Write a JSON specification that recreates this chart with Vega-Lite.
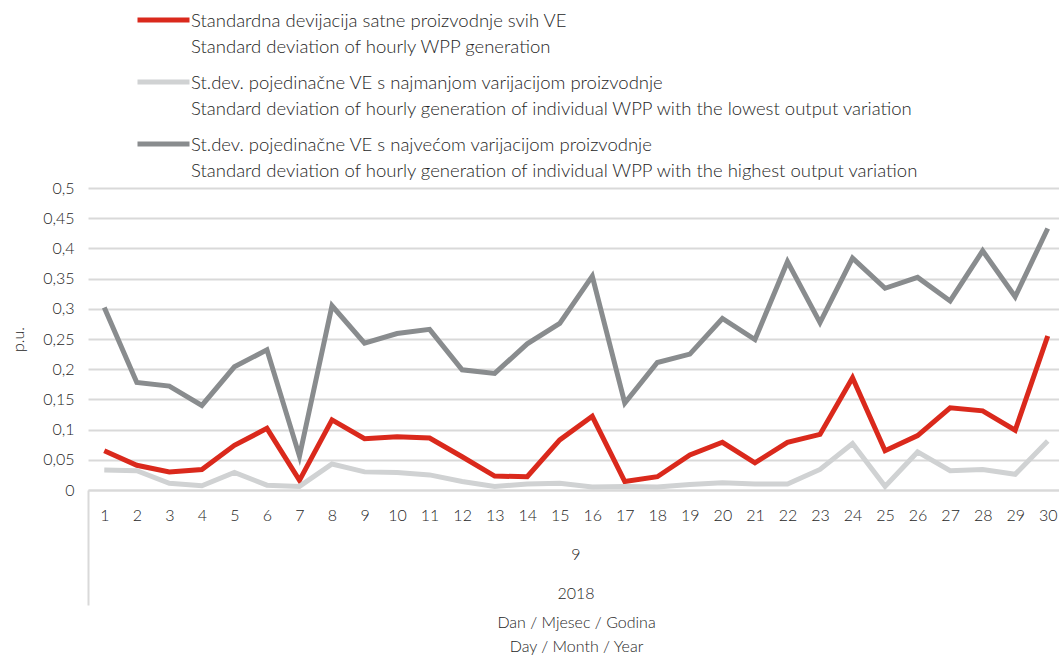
{
  "$schema": "https://vega.github.io/schema/vega-lite/v6.json",
  "autosize": "none",
  "width": 976,
  "height": 302,
  "padding": {"left": 88, "top": 188, "right": 0, "bottom": 169},
  "background": "white",
  "config": {
    "font": "Lato",
    "view": {"stroke": null},
    "axisX": {
      "labelAngle": 0,
      "labelFontSize": 16,
      "labelFontWeight": 300,
      "labelColor": "#262626",
      "labelPadding": -98,
      "tickBand": "extent",
      "tickSize": 115,
      "tickWidth": 2,
      "tickColor": "#d9d9d9",
      "domainColor": "#d9d9d9",
      "domainWidth": 2,
      "grid": false,
      "titleFontSize": 16,
      "titleFontWeight": 300,
      "titleColor": "#262626",
      "titleLineHeight": 24,
      "titlePadding": 8
    },
    "axisY": {
      "labelFontSize": 16,
      "labelFontWeight": 300,
      "labelColor": "#262626",
      "labelPadding": 14,
      "domain": false,
      "ticks": false,
      "gridColor": "#d9d9d9",
      "gridWidth": 2,
      "titleFontSize": 16,
      "titleFontWeight": 300,
      "titleColor": "#262626",
      "titlePadding": 16
    }
  },
  "layer": [
    {
      "data": {
        "values": [
          {"day": 1, "s": "r", "v": 0.065}, {"day": 2, "s": "r", "v": 0.041}, {"day": 3, "s": "r", "v": 0.030}, {"day": 4, "s": "r", "v": 0.034}, {"day": 5, "s": "r", "v": 0.074}, {"day": 6, "s": "r", "v": 0.102}, {"day": 7, "s": "r", "v": 0.016}, {"day": 8, "s": "r", "v": 0.116}, {"day": 9, "s": "r", "v": 0.085}, {"day": 10, "s": "r", "v": 0.088},
          {"day": 11, "s": "r", "v": 0.086}, {"day": 12, "s": "r", "v": 0.055}, {"day": 13, "s": "r", "v": 0.023}, {"day": 14, "s": "r", "v": 0.022}, {"day": 15, "s": "r", "v": 0.083}, {"day": 16, "s": "r", "v": 0.122}, {"day": 17, "s": "r", "v": 0.014}, {"day": 18, "s": "r", "v": 0.022}, {"day": 19, "s": "r", "v": 0.058}, {"day": 20, "s": "r", "v": 0.079},
          {"day": 21, "s": "r", "v": 0.045}, {"day": 22, "s": "r", "v": 0.079}, {"day": 23, "s": "r", "v": 0.092}, {"day": 24, "s": "r", "v": 0.186}, {"day": 25, "s": "r", "v": 0.065}, {"day": 26, "s": "r", "v": 0.090}, {"day": 27, "s": "r", "v": 0.136}, {"day": 28, "s": "r", "v": 0.131}, {"day": 29, "s": "r", "v": 0.099}, {"day": 30, "s": "r", "v": 0.255},
          {"day": 1, "s": "l", "v": 0.033}, {"day": 2, "s": "l", "v": 0.032}, {"day": 3, "s": "l", "v": 0.011}, {"day": 4, "s": "l", "v": 0.007}, {"day": 5, "s": "l", "v": 0.029}, {"day": 6, "s": "l", "v": 0.008}, {"day": 7, "s": "l", "v": 0.006}, {"day": 8, "s": "l", "v": 0.043}, {"day": 9, "s": "l", "v": 0.030}, {"day": 10, "s": "l", "v": 0.029},
          {"day": 11, "s": "l", "v": 0.025}, {"day": 12, "s": "l", "v": 0.014}, {"day": 13, "s": "l", "v": 0.006}, {"day": 14, "s": "l", "v": 0.010}, {"day": 15, "s": "l", "v": 0.011}, {"day": 16, "s": "l", "v": 0.005}, {"day": 17, "s": "l", "v": 0.006}, {"day": 18, "s": "l", "v": 0.005}, {"day": 19, "s": "l", "v": 0.009}, {"day": 20, "s": "l", "v": 0.012},
          {"day": 21, "s": "l", "v": 0.010}, {"day": 22, "s": "l", "v": 0.010}, {"day": 23, "s": "l", "v": 0.034}, {"day": 24, "s": "l", "v": 0.077}, {"day": 25, "s": "l", "v": 0.006}, {"day": 26, "s": "l", "v": 0.063}, {"day": 27, "s": "l", "v": 0.032}, {"day": 28, "s": "l", "v": 0.034}, {"day": 29, "s": "l", "v": 0.026}, {"day": 30, "s": "l", "v": 0.081},
          {"day": 1, "s": "h", "v": 0.302}, {"day": 2, "s": "h", "v": 0.178}, {"day": 3, "s": "h", "v": 0.172}, {"day": 4, "s": "h", "v": 0.140}, {"day": 5, "s": "h", "v": 0.204}, {"day": 6, "s": "h", "v": 0.232}, {"day": 7, "s": "h", "v": 0.056}, {"day": 8, "s": "h", "v": 0.305}, {"day": 9, "s": "h", "v": 0.243}, {"day": 10, "s": "h", "v": 0.259},
          {"day": 11, "s": "h", "v": 0.266}, {"day": 12, "s": "h", "v": 0.199}, {"day": 13, "s": "h", "v": 0.193}, {"day": 14, "s": "h", "v": 0.242}, {"day": 15, "s": "h", "v": 0.276}, {"day": 16, "s": "h", "v": 0.354}, {"day": 17, "s": "h", "v": 0.144}, {"day": 18, "s": "h", "v": 0.211}, {"day": 19, "s": "h", "v": 0.225}, {"day": 20, "s": "h", "v": 0.284},
          {"day": 21, "s": "h", "v": 0.249}, {"day": 22, "s": "h", "v": 0.378}, {"day": 23, "s": "h", "v": 0.277}, {"day": 24, "s": "h", "v": 0.384}, {"day": 25, "s": "h", "v": 0.334}, {"day": 26, "s": "h", "v": 0.352}, {"day": 27, "s": "h", "v": 0.313}, {"day": 28, "s": "h", "v": 0.396}, {"day": 29, "s": "h", "v": 0.320}, {"day": 30, "s": "h", "v": 0.433}
        ]
      },
      "mark": {"type": "line", "strokeWidth": 5, "strokeJoin": "miter", "strokeCap": "butt"},
      "encoding": {
        "x": {
          "field": "day",
          "type": "ordinal",
          "scale": {"type": "band", "paddingInner": 0, "paddingOuter": 0},
          "axis": {
            "tickOpacity": {"condition": {"test": "datum.extra", "value": 1}, "value": 0},
            "title": ["Dan / Mjesec / Godina", "Day / Month / Year"]
          }
        },
        "y": {
          "field": "v",
          "type": "quantitative",
          "scale": {"domain": [0, 0.5], "nice": false},
          "axis": {
            "values": [0, 0.05, 0.1, 0.15, 0.2, 0.25, 0.3, 0.35, 0.4, 0.45, 0.5],
            "labelExpr": "replace(format(datum.value, '.2~f'), '.', ',')",
            "title": "p.u."
          }
        },
        "color": {
          "field": "s",
          "type": "nominal",
          "scale": {"domain": ["r", "l", "h"], "range": ["#da291c", "#d0d2d3", "#898c8e"]},
          "legend": {
            "orient": "none",
            "legendX": 47,
            "legendY": -193,
            "title": null,
            "symbolType": "M-1,-0.04H1",
            "symbolStrokeWidth": 5,
            "symbolSize": 2704,
            "clipHeight": 52,
            "labelExpr": "datum.value == 'r' ? ['Standardna devijacija satne proizvodnje svih VE', 'Standard deviation of hourly WPP generation'] : datum.value == 'l' ? ['St.dev. pojedinačne VE s najmanjom varijacijom proizvodnje', 'Standard deviation of hourly generation of individual WPP with the lowest output variation'] : ['St.dev. pojedinačne VE s najvećom varijacijom proizvodnje', 'Standard deviation of hourly generation of individual WPP with the highest output variation']",
            "labelFontSize": 18.5,
            "labelFontWeight": 300,
            "labelColor": "#262626",
            "labelLimit": 1000,
            "labelOffset": -1,
            "labelBaseline": "middle",
            "rowPadding": 0,
            "encode": {"labels": {"update": {"lineHeight": {"value": 26}}}}
          }
        }
      }
    },
    {
      "data": {"values": [{"label": "9"}]},
      "mark": {"type": "text", "fontSize": 16, "fontWeight": 300, "color": "#262626", "baseline": "middle", "align": "center"},
      "encoding": {
        "x": {
          "datum": 15, "type": "ordinal", "bandPosition": 1,
          "axis": {
            "tickOpacity": {"condition": {"test": "datum.extra", "value": 1}, "value": 0},
            "title": ["Dan / Mjesec / Godina", "Day / Month / Year"]
          }
        },
        "y": {
          "datum": -0.107, "type": "quantitative",
          "axis": {
            "values": [0, 0.05, 0.1, 0.15, 0.2, 0.25, 0.3, 0.35, 0.4, 0.45, 0.5],
            "labelExpr": "replace(format(datum.value, '.2~f'), '.', ',')",
            "title": "p.u."
          }
        },
        "text": {"field": "label"}
      }
    },
    {
      "data": {"values": [{"label": "2018"}]},
      "mark": {"type": "text", "fontSize": 16, "fontWeight": 300, "color": "#262626", "baseline": "middle", "align": "center"},
      "encoding": {
        "x": {
          "datum": 15, "type": "ordinal", "bandPosition": 1,
          "axis": {
            "tickOpacity": {"condition": {"test": "datum.extra", "value": 1}, "value": 0},
            "title": ["Dan / Mjesec / Godina", "Day / Month / Year"]
          }
        },
        "y": {
          "datum": -0.172, "type": "quantitative",
          "axis": {
            "values": [0, 0.05, 0.1, 0.15, 0.2, 0.25, 0.3, 0.35, 0.4, 0.45, 0.5],
            "labelExpr": "replace(format(datum.value, '.2~f'), '.', ',')",
            "title": "p.u."
          }
        },
        "text": {"field": "label"}
      }
    }
  ]
}
